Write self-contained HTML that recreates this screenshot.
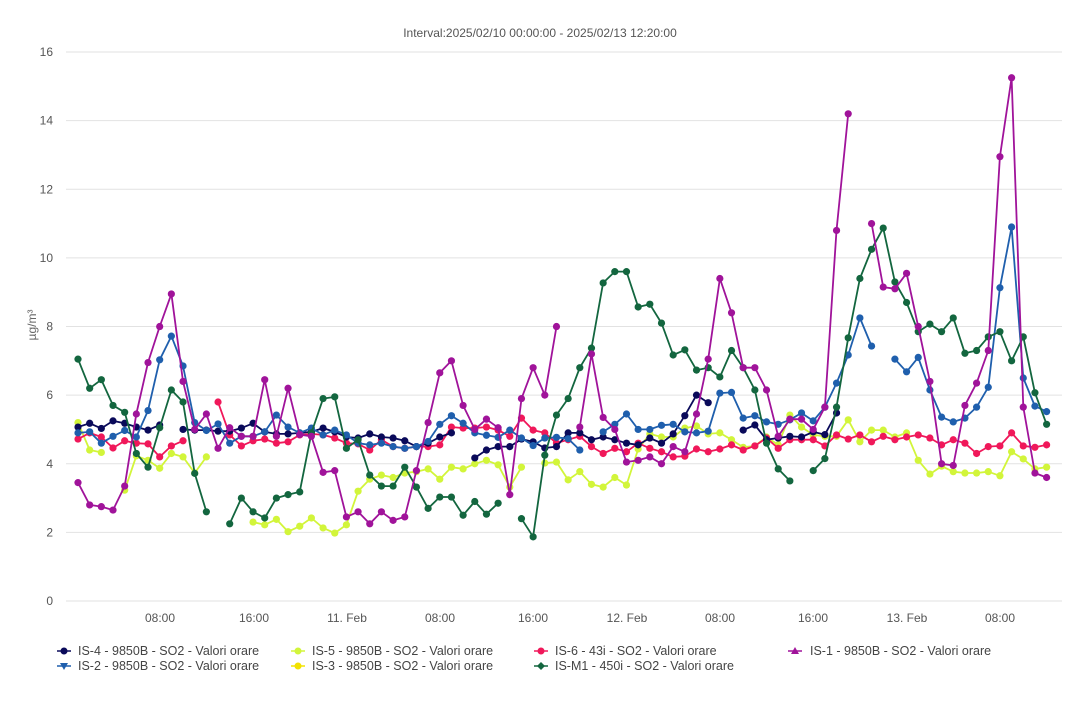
<!DOCTYPE html>
<html><head><meta charset="utf-8"><style>
html,body{margin:0;padding:0;background:#fff;}
svg text{font-family:"Liberation Sans",sans-serif;}
</style></head><body>
<svg id="c" width="1078" height="700" xmlns="http://www.w3.org/2000/svg">
<rect width="1078" height="700" fill="#fff"/>
<text x="540" y="37" text-anchor="middle" font-size="12" fill="#555">Interval:2025/02/10 00:00:00 - 2025/02/13 12:20:00</text>
<text transform="translate(36,325) rotate(-90)" text-anchor="middle" font-size="12" fill="#666">µg/m³</text>
<g id="grid"></g>
<g id="series"></g>
<g font-size="12.5" fill="#444">
<circle cx="64" cy="651" r="3.5" fill="#0a0a5a"/><line x1="57" x2="71" y1="651" y2="651" stroke="#0a0a5a" stroke-width="1.5"/>
<text x="78" y="655">IS-4 - 9850B - SO2 - Valori orare</text>
<circle cx="298" cy="651" r="3.5" fill="#d2f53a"/><line x1="291" x2="305" y1="651" y2="651" stroke="#d2f53a" stroke-width="1.5"/>
<text x="312" y="655">IS-5 - 9850B - SO2 - Valori orare</text>
<circle cx="541" cy="651" r="3.5" fill="#f0185a"/><line x1="534" x2="548" y1="651" y2="651" stroke="#f0185a" stroke-width="1.5"/>
<text x="555" y="655">IS-6 - 43i - SO2 - Valori orare</text>
<polygon points="795,647 799,654 791,654" fill="#a0139a"/><line x1="788" x2="802" y1="651" y2="651" stroke="#a0139a" stroke-width="1.5"/>
<text x="810" y="655">IS-1 - 9850B - SO2 - Valori orare</text>
<polygon points="60,663 68,663 64,670" fill="#1f5fad"/><line x1="57" x2="71" y1="666" y2="666" stroke="#1f5fad" stroke-width="1.5"/>
<text x="78" y="670">IS-2 - 9850B - SO2 - Valori orare</text>
<circle cx="298" cy="666" r="3.5" fill="#f2e200"/><line x1="291" x2="305" y1="666" y2="666" stroke="#f2e200" stroke-width="1.5"/>
<text x="312" y="670">IS-3 - 9850B - SO2 - Valori orare</text>
<polygon points="541,662 545,666 541,670 537,666" fill="#13663f"/><line x1="534" x2="548" y1="666" y2="666" stroke="#13663f" stroke-width="1.5"/>
<text x="555" y="670">IS-M1 - 450i - SO2 - Valori orare</text>
</g>
</svg>
<script>
var NS="http://www.w3.org/2000/svg";
function Y(v){return 601-v*34.31;}
function X(i){return 78+i*11.67;}
var g=document.getElementById('grid');
function el(p,t,a){var e=document.createElementNS(NS,t);for(var k in a)e.setAttribute(k,a[k]);p.appendChild(e);return e;}
for(var v=0;v<=16;v+=2){el(g,'line',{x1:66,x2:1062,y1:Y(v),y2:Y(v),stroke:'#e2e2e2','stroke-width':1});
var t=el(g,'text',{x:53,y:Y(v)+4,'text-anchor':'end','font-size':12,fill:'#555'});t.textContent=v;}
var xl=[[160,'08:00'],[254,'16:00'],[347,'11. Feb'],[440,'08:00'],[533,'16:00'],[627,'12. Feb'],[720,'08:00'],[813,'16:00'],[907,'13. Feb'],[1000,'08:00']];
xl.forEach(function(a){var t=el(g,'text',{x:a[0],y:622,'text-anchor':'middle','font-size':12,fill:'#555'});t.textContent=a[1];});
var N=null;
var S=[
['#d2f53a',[5.2,4.4,4.33,N,3.23,4.23,4.1,3.87,4.3,4.2,3.73,4.2,N,N,N,2.3,2.22,2.38,2.02,2.18,2.42,2.13,1.98,2.22,3.2,3.55,3.67,3.6,3.73,3.77,3.85,3.55,3.9,3.85,4.0,4.1,3.97,3.32,3.9,N,4.02,4.05,3.53,3.77,3.4,3.32,3.6,3.38,4.43,4.87,4.78,4.78,5.04,5.1,4.87,4.9,4.7,4.48,4.52,4.78,4.55,5.42,5.07,4.84,4.8,4.8,5.28,4.64,4.98,4.98,4.78,4.9,4.1,3.7,3.93,3.77,3.73,3.73,3.77,3.65,4.35,4.14,3.85,3.9]],
['#f0185a',[4.72,4.9,4.78,4.46,4.67,4.6,4.58,4.2,4.52,4.67,N,N,5.8,4.84,4.52,4.67,4.72,4.6,4.64,4.84,4.87,4.84,4.75,4.6,4.58,4.4,4.7,4.5,4.45,4.5,4.5,4.55,5.07,5.04,5.04,5.07,4.98,4.8,5.33,4.98,4.9,4.6,4.7,4.8,4.5,4.3,4.45,4.35,4.6,4.45,4.35,4.2,4.22,4.43,4.35,4.43,4.55,4.4,4.52,4.75,4.45,4.7,4.7,4.7,4.52,4.84,4.72,4.84,4.64,4.8,4.7,4.78,4.84,4.75,4.55,4.7,4.6,4.3,4.5,4.52,4.9,4.52,4.48,4.55]],
['#0a0a5a',[5.07,5.18,5.03,5.25,5.18,5.07,4.98,5.13,N,5.0,4.98,4.98,4.95,4.95,5.04,5.18,4.93,4.87,4.87,4.9,4.93,5.04,4.93,4.78,4.75,4.87,4.78,4.75,4.67,4.5,4.6,4.78,4.9,N,4.17,4.4,4.5,4.5,4.72,4.64,4.46,4.5,4.9,4.9,4.7,4.78,4.7,4.6,4.55,4.75,4.6,4.87,5.4,6.0,5.78,N,N,4.98,5.13,4.7,4.75,4.8,4.78,4.93,4.85,5.48]],
['#1f5fad',[4.9,4.93,4.6,4.8,4.97,4.78,5.55,7.03,7.72,6.85,5.2,4.97,5.16,4.6,4.8,4.8,4.93,5.42,5.07,4.9,5.04,4.84,4.98,4.84,4.6,4.55,4.6,4.5,4.45,4.5,4.65,5.15,5.4,5.18,4.9,4.83,4.77,4.98,4.75,4.53,4.75,4.77,4.73,4.4,N,4.93,5.15,5.45,5.0,5.0,5.12,5.15,4.93,4.9,4.95,6.06,6.08,5.33,5.4,5.22,5.15,5.28,5.48,5.25,5.65,6.35,7.17,8.25,7.43,N,7.05,6.68,7.1,6.15,5.36,5.22,5.33,5.65,6.23,9.13,10.9,6.5,5.68,5.52]],
['#13663f',[7.05,6.2,6.45,5.7,5.5,4.3,3.9,5.05,6.15,5.8,3.72,2.6,N,2.25,3.0,2.6,2.42,3.0,3.1,3.18,4.9,5.9,5.95,4.45,4.7,3.67,3.35,3.35,3.9,3.32,2.7,3.03,3.03,2.5,2.9,2.53,2.85,N,2.4,1.87,4.25,5.42,5.9,6.8,7.37,9.27,9.6,9.6,8.57,8.65,8.1,7.17,7.32,6.73,6.8,6.53,7.3,6.8,6.15,4.6,3.85,3.5,N,3.8,4.15,5.65,7.67,9.4,10.25,10.87,9.3,8.7,7.85,8.07,7.85,8.25,7.22,7.3,7.7,7.85,7.0,7.7,6.07,5.15]],
['#a0139a',[3.45,2.8,2.75,2.65,3.35,5.45,6.95,8.0,8.95,6.4,5.0,5.45,4.45,5.05,4.8,4.8,6.45,4.8,6.2,4.85,4.8,3.75,3.8,2.45,2.6,2.25,2.6,2.35,2.45,3.8,5.2,6.65,7.0,5.7,5.0,5.3,5.05,3.1,5.9,6.8,6.0,8.0,N,5.07,7.2,5.35,5.0,4.05,4.1,4.2,4.0,4.5,4.35,5.45,7.05,9.4,8.4,6.8,6.8,6.15,4.8,5.3,5.3,5.0,5.65,10.8,14.2,N,11.0,9.15,9.1,9.55,8.0,6.4,4.0,3.95,5.7,6.35,7.3,12.95,15.25,5.65,3.73,3.6]]
];
var sg=document.getElementById('series');
S.forEach(function(s){var c=s[0],d=s[1],path='',pen=false;
d.forEach(function(v,i){if(v===N){pen=false;return;}path+=(pen?'L':'M')+X(i).toFixed(1)+' '+Y(v).toFixed(1)+' ';pen=true;});
el(sg,'path',{d:path,fill:'none',stroke:c,'stroke-width':1.8,'stroke-linejoin':'round'});
d.forEach(function(v,i){if(v!==N)el(sg,'circle',{cx:X(i),cy:Y(v),r:3.6,fill:c});});
});
</script>
</body></html>
